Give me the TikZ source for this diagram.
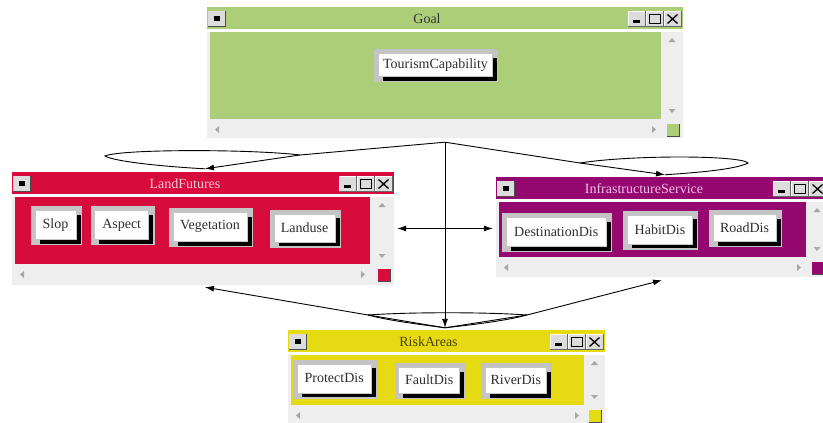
\documentclass[tikz,border=0pt]{standalone}
\usepackage{fontspec}
\setmainfont{Liberation Serif}
\usetikzlibrary{arrows.meta,fit,calc}
\definecolor{goalgreen}{HTML}{ACCE78}
\definecolor{lfred}{HTML}{D80C3C}
\definecolor{infrapurple}{HTML}{940870}
\definecolor{riskyellow}{HTML}{E6DA12}
\definecolor{framegray}{HTML}{EEEEEE}
\definecolor{tbface}{HTML}{DCDCDC}
\definecolor{btnring}{HTML}{C4C4C4}
\definecolor{scrollarrow}{HTML}{A8A8A8}
\definecolor{lftitle}{HTML}{F8C8D8}
\definecolor{infratitle}{HTML}{F0C0E8}
\definecolor{risktitle}{HTML}{4A4200}

% title-bar button: #1 left x, #2 window top
\newcommand\tbbtn[2]{%
  \fill[tbface] ({#1},{#2+4}) rectangle ({#1+17},{#2+19});
  \draw[white,line width=0.8pt] ({#1},{#2+19}) -- ({#1},{#2+4}) -- ({#1+17},{#2+4});
  \draw[black!60,line width=0.9pt] ({#1},{#2+19}) -- ({#1+17},{#2+19}) -- ({#1+17},{#2+4});
}
% window: #1 name, #2 L, #3 T, #4 R, #5 B, #6 body right, #7 body bottom, #8 colour, #9 title
\newcommand\mywin[9]{%
  \fill[framegray] (#2,#3) rectangle (#4,#5);
  \fill[#8] (#2,#3) rectangle (#4,{#3+22});
  \fill[white] (#2,{#3+22}) rectangle (#4,{#3+24.5});
  \fill[#8] ({#2+3},{#3+25}) rectangle (#6,#7);
  % system button
  \fill[tbface] ({#2+1},{#3+4}) rectangle ({#2+18},{#3+19});
  \draw[black!70,line width=1pt] ({#2+1},{#3+19}) -- ({#2+18},{#3+19}) -- ({#2+18},{#3+4});
  \fill[black] ({#2+6.5},{#3+9}) rectangle ({#2+12.5},{#3+14});
  % minimise / maximise / close
  \tbbtn{#4-55}{#3}
  \tbbtn{#4-37}{#3}
  \tbbtn{#4-19}{#3}
  \draw[black,line width=2.4pt] ({#4-50},{#3+14.5}) -- ({#4-43},{#3+14.5});
  \draw[black,line width=0.9pt] ({#4-34},{#3+7}) rectangle ({#4-23},{#3+16.5});
  \draw[black,line width=1.6pt] ({#4-34},{#3+7.5}) -- ({#4-23},{#3+7.5});
  \draw[black,line width=1.3pt] ({#4-15.5},{#3+7.5}) -- ({#4-5.5},{#3+16.5})
                                ({#4-15.5},{#3+16.5}) -- ({#4-5.5},{#3+7.5});
  % scroll arrows
  \fill[scrollarrow] ({(#6+#4)/2-3.5},{#3+35}) -- ({(#6+#4)/2+3.5},{#3+35}) -- ({(#6+#4)/2},{#3+31}) -- cycle;
  \fill[scrollarrow] ({(#6+#4)/2-3.5},{#7-10}) -- ({(#6+#4)/2+3.5},{#7-10}) -- ({(#6+#4)/2},{#7-6}) -- cycle;
  \fill[scrollarrow] ({#2+12},{#7+7}) -- ({#2+12},{#7+14}) -- ({#2+8},{#7+10.5}) -- cycle;
  \fill[scrollarrow] ({#6-9},{#7+7}) -- ({#6-9},{#7+14}) -- ({#6-5},{#7+10.5}) -- cycle;
  % corner square
  \fill[#8] ({#4-16},{#7+5}) rectangle ({#4-4},{#7+17});
  \draw[black!70,line width=1pt] ({#4-16},{#7+17}) -- ({#4-4},{#7+17}) -- ({#4-4},{#7+5});
  \node[winnode, fit={(#2,#3) (#4,#5)}] (#1) {};
  \node[wintitle] (#1-title) at ({(#2+#4-36)/2},{#3+11.5}) {#9};
}

\begin{document}
\begin{tikzpicture}[x=1pt,y=-1pt,
  winnode/.style={inner sep=0pt, draw=none},
  wintitle/.style={font=\fontsize{14}{16}\selectfont, inner sep=0pt, anchor=center},
  btn/.style={rectangle, fill=white, draw=black!22, line width=0.6pt, inner sep=0pt,
    text=black!82, font=\fontsize{14}{16}\selectfont,
    preaction={draw=btnring, line width=10pt, transform canvas={shift={(0.8pt,-0.8pt)}}},
    preaction={fill=black, transform canvas={shift={(4.5pt,-4.5pt)}}}},
  conn/.style={line width=0.9pt, black},
  arr/.style={-{Latex[length=9pt,width=6pt]}},
  arrboth/.style={{Latex[length=9pt,width=6pt]}-{Latex[length=9pt,width=6pt]}},
]
\useasboundingbox (0,0) rectangle (823,423);
\fill[white] (0,0) rectangle (823,423);

% windows
\mywin{goal}{207}{7}{683}{138}{661}{119}{goalgreen}{\textcolor{black!80}{Goal}}
\mywin{land}{12}{172}{394}{285}{370}{264}{lfred}{\textcolor{lftitle}{LandFutures}}
\mywin{infra}{496}{177}{828}{277}{806}{257}{infrapurple}{\textcolor{infratitle}{InfrastructureService}}
\mywin{risk}{288}{330}{605}{425}{584}{405}{riskyellow}{\textcolor{risktitle}{RiskAreas}}

% buttons
\node[btn, minimum width=114pt, minimum height=23pt] (tourism) at (435.5,65) {TourismCapability};
\node[btn, minimum width=41pt, minimum height=29pt] (slop) at (55.5,225) {Slop};
\node[btn, minimum width=54pt, minimum height=29pt] (aspect) at (121.7,225) {Aspect};
\node[btn, minimum width=74pt, minimum height=29pt] (vegetation) at (210,226.7) {Vegetation};
\node[btn, minimum width=61pt, minimum height=28pt] (landuse) at (304.5,227.8) {Landuse};
\node[btn, minimum width=100pt, minimum height=29pt] (destination) at (556.2,231.7) {DestinationDis};
\node[btn, minimum width=65pt, minimum height=29pt] (habit) at (660,229.3) {HabitDis};
\node[btn, minimum width=63pt, minimum height=27pt] (road) at (744.5,227.5) {RoadDis};
\node[btn, minimum width=74pt, minimum height=29pt] (protect) at (334.2,378.3) {ProtectDis};
\node[btn, minimum width=61pt, minimum height=26pt] (fault) at (429.2,380) {FaultDis};
\node[btn, minimum width=61pt, minimum height=26pt] (river) at (515.8,380) {RiverDis};

% connector points
\coordinate (hub) at ([yshift=-4pt]goal.south);
\coordinate (ltip) at (300,155);
\coordinate (lleft) at (105,156);
\coordinate (lfin) at ([shift={(2,-3)}]land.north);
\coordinate (rtip) at (580,163);
\coordinate (rright) at (748,163);
\coordinate (ifin) at ([shift={(3,-2)}]infra.north);
\coordinate (rfin) at ($(hub |- risk.north)+(0,-2)$);
\coordinate (blt) at (368,315);
\coordinate (brt) at (527,315);
\coordinate (lsin) at ([shift={(2,2)}]land.south);
\coordinate (isin) at ([shift={(0,3)}]infra.south);

% Goal -> LandFutures
\draw[conn] (hub) -- (ltip);
\draw[conn,arr] (ltip) -- (lfin);
\draw[conn] (ltip) .. controls (250,149) and (120,149) .. (lleft)
            .. controls (115,162) and (170,167) .. (lfin);
% Goal -> InfrastructureService
\draw[conn] (hub) -- (rtip);
\draw[conn,arr] (rtip) -- (ifin);
\draw[conn] (rtip) .. controls (630,155) and (740,155) .. (rright)
            .. controls (735,170) and (690,173) .. (ifin);
% Goal -> RiskAreas
\draw[conn,arr] (hub) -- (rfin);
% LandFutures <-> InfrastructureService
\draw[conn,arrboth,shorten <=3pt,shorten >=3pt] (land.east) -- (land.east -| infra.west);
% RiskAreas loops
\draw[conn,arr] (blt) -- (lsin);
\draw[conn,arr] (brt) -- (isin);
\draw[conn] (blt) .. controls (410,312) and (485,312) .. (brt);
\draw[conn] (blt) -- (rfin);
\draw[conn] (brt) -- (rfin);
\draw[conn] (blt) .. controls (390,321) and (425,325) .. (rfin);
\draw[conn] (brt) .. controls (505,321) and (470,325) .. (rfin);
\end{tikzpicture}
\end{document}
